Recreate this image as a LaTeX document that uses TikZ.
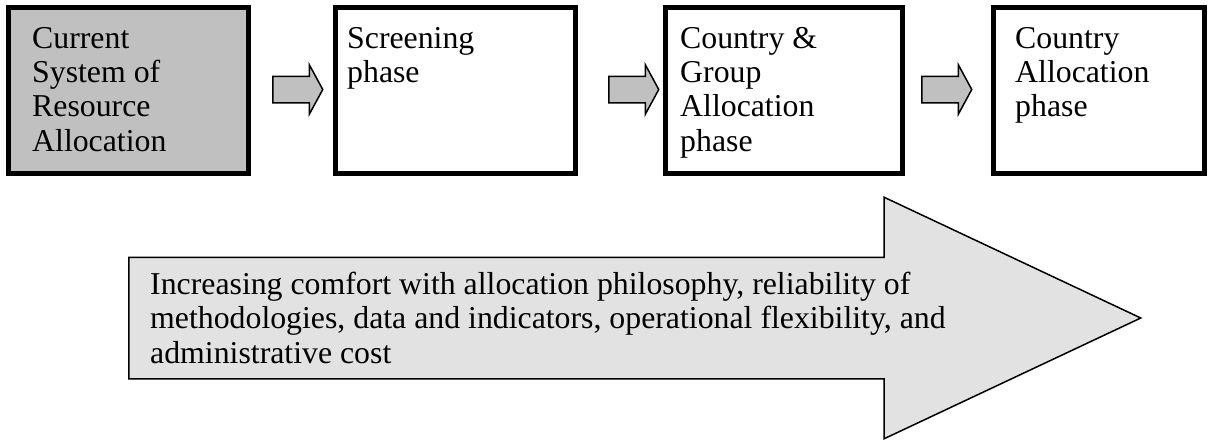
\documentclass[tikz,border=0pt]{standalone}
\usepackage{fontspec}
\setmainfont{Liberation Serif}
\usetikzlibrary{shapes.arrows}
\definecolor{boxgray}{RGB}{192,192,192}
\definecolor{arrowgray}{RGB}{226,226,226}
\begin{document}
\begin{tikzpicture}[x=1pt,y=-1pt]
	\tikzstyle{phase}=[rectangle,draw=black,line width=5pt,inner sep=0pt,minimum height=166pt]
	\tikzstyle{phasetext}=[anchor=north west,inner sep=0pt,align=left,font=\fontsize{31.8}{34.3}\selectfont]
	\tikzstyle{smallarrow}=[single arrow,draw=black,line width=1.5pt,fill=boxgray,inner xsep=0pt,inner ysep=12.5pt,minimum width=48pt,minimum height=50pt,single arrow head extend=11.5pt,single arrow tip angle=123,anchor=tail]
	\tikzstyle{bigarrow}=[single arrow,draw=black,line width=1.5pt,fill=arrowgray,inner xsep=0pt,inner ysep=60pt,minimum width=240pt,minimum height=1012pt,single arrow head extend=60pt,single arrow tip angle=50.4,anchor=tail]
	\useasboundingbox (0,0) rectangle (1209,440);
	\begin{scope}
		\node [phase,fill=boxgray,minimum width=240pt] (current) at (128.5,90) {};
		\node [phase,minimum width=240pt] (screening) at (455.5,90) {};
		\node [phase,minimum width=237pt] (group) at (784,90) {};
		\node [phase,minimum width=211pt] (country) at (1099,90) {};
		\node [phasetext] (currenttext) at (32,27) {Current\\System of\\Resource\\Allocation};
		\node [phasetext] (screeningtext) at (347,27) {Screening\\phase};
		\node [phasetext] (grouptext) at (680,27) {Country \&\\Group\\Allocation\\phase};
		\node [phasetext] (countrytext) at (1015,27) {Country\\Allocation\\phase};
		\node [smallarrow] (step1) at (272,89.5) {};
		\node [smallarrow] (step2) at (608,89.5) {};
		\node [smallarrow] (step3) at (921,89.5) {};
	\end{scope}
	\begin{scope}
		\node [bigarrow] (comfort) at (128,318) {};
		\node [phasetext] (comforttext) at (150,272) {Increasing comfort with allocation philosophy, reliability of\\methodologies, data and indicators, operational flexibility, and\\administrative cost};
	\end{scope}
\end{tikzpicture}
\end{document}
